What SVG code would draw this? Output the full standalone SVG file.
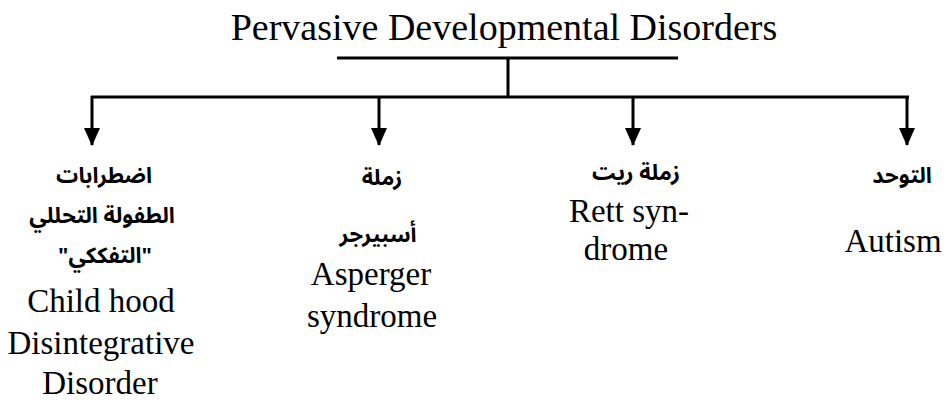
<svg xmlns="http://www.w3.org/2000/svg" width="950" height="403" viewBox="0 0 950 403">
<style>
.en{font-family:"Liberation Serif","Times New Roman",serif;font-size:33px;fill:#000;text-anchor:middle}
.ar{font-family:"Noto Sans Arabic","DejaVu Sans",sans-serif;font-size:22px;font-weight:bold;fill:#000;text-anchor:middle}
.ln{stroke:#000;stroke-width:3;fill:none}
</style>
<defs>
<marker id="ah" markerWidth="18" markerHeight="16" refX="17" refY="8" orient="auto" markerUnits="userSpaceOnUse" viewBox="0 0 18 16">
<path d="M0,0 L18,8 L0,16 Z" fill="#000"/>
</marker>
</defs>
<g id="title">
<text x="504" y="40" style="font-family:'Liberation Serif','Times New Roman',serif;font-size:38px;text-anchor:middle">Pervasive Developmental Disorders</text>
</g>
<g id="connectors">
<line class="ln" x1="337" y1="58" x2="678" y2="58"/>
<line class="ln" x1="508" y1="58" x2="508" y2="97"/>
<line class="ln" x1="91" y1="97" x2="909" y2="97"/>
<line class="ln" x1="92" y1="96" x2="92" y2="145" marker-end="url(#ah)"/>
<line class="ln" x1="379" y1="96" x2="379" y2="145" marker-end="url(#ah)"/>
<line class="ln" x1="633" y1="96" x2="633" y2="145" marker-end="url(#ah)"/>
<line class="ln" x1="907" y1="96" x2="907" y2="145" marker-end="url(#ah)"/>
</g>
<g id="node-cdd">
<text class="ar" x="104" y="183" direction="rtl">اضطرابات</text>
<text class="ar" x="102" y="223" direction="rtl">الطفولة التحللي</text>
<text class="ar" x="105" y="263" direction="rtl">"التفككي"</text>
<text class="en" x="101" y="312">Child hood</text>
<text class="en" x="101" y="354">Disintegrative</text>
<text class="en" x="100" y="394">Disorder</text>
</g>
<g id="node-asperger">
<text class="ar" x="382" y="185" direction="rtl">زملة</text>
<text class="ar" x="378" y="242" direction="rtl">أسبيرجر</text>
<text class="en" x="371" y="285">Asperger</text>
<text class="en" x="372" y="327">syndrome</text>
</g>
<g id="node-rett">
<text class="ar" x="636" y="180" direction="rtl">زملة ريت</text>
<text class="en" x="629" y="222">Rett syn-</text>
<text class="en" x="626" y="260">drome</text>
</g>
<g id="node-autism">
<text class="ar" x="902" y="183" direction="rtl">التوحد</text>
<text class="en" x="893" y="252">Autism</text>
</g>
</svg>
